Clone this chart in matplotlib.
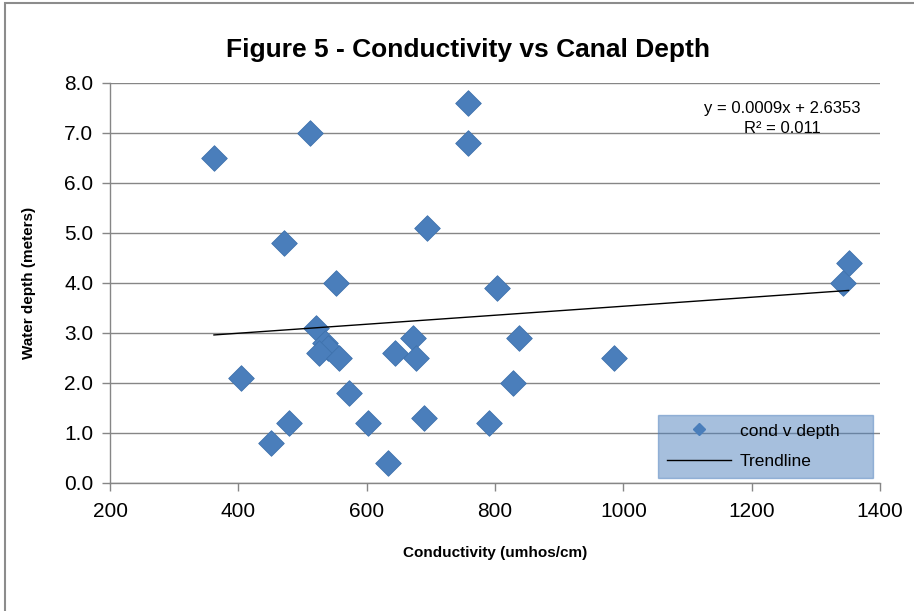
import matplotlib
matplotlib.use('Agg')
import matplotlib.pyplot as plt
import matplotlib.patches as mpatches
from matplotlib.lines import Line2D
import numpy as np

plt.rcParams['font.family'] = ['Liberation Sans', 'DejaVu Sans']

# conductivity (umhos/cm) and water depth (m)
conductivity = [362, 511, 758, 758, 471, 694, 552, 803, 1342, 1351,
                521, 535, 540, 526, 557, 644, 672, 677, 837, 986,
                404, 573, 828, 479, 602, 690, 790, 451, 633]
depth = [6.5, 7.0, 7.6, 6.8, 4.8, 5.1, 4.0, 3.9, 4.0, 4.4,
         3.1, 2.8, 2.7, 2.6, 2.5, 2.6, 2.9, 2.5, 2.9, 2.5,
         2.1, 1.8, 2.0, 1.2, 1.2, 1.3, 1.2, 0.8, 0.4]

slope = 0.0009
intercept = 2.6353
r2 = 0.011

xticks = [200, 400, 600, 800, 1000, 1200, 1400]
yticks = [0, 1, 2, 3, 4, 5, 6, 7, 8]

blue = '#4a7ebb'
grey = '#868686'

fig = plt.figure(figsize=(9.14, 6.11), dpi=100)
ax = fig.add_axes([110/914, 1-483/611, 770/914, 400/611])

# chart area border (only left/top visible in the crop)
fig.patches.append(mpatches.Rectangle((5/914, -0.1), 1.2, 1 - 3/611 + 0.1,
                                      transform=fig.transFigure, fill=False,
                                      edgecolor='#8c8c8c', lw=1.5))

ax.scatter(conductivity, depth, marker='D', s=170, color=blue,
           edgecolors='#3f72ad', linewidths=0.6, zorder=3)

xt = np.array([min(conductivity), max(conductivity)])
ax.plot(xt, slope*xt + intercept, color='black', lw=1, zorder=4)

ax.set_xlim(200, 1400)
ax.set_ylim(0, 8)
ax.set_xticks(xticks)
ax.set_yticks(yticks)
ax.set_yticklabels(['%.1f' % v for v in yticks])
ax.tick_params(axis='both', labelsize=15, color=grey, length=6, width=1)
ax.tick_params(axis='x', pad=8)
ax.tick_params(axis='y', pad=6)

ax.yaxis.grid(True, color=grey, lw=1)
ax.set_axisbelow(True)
for s in ['top', 'right']:
    ax.spines[s].set_visible(False)
for s in ['left', 'bottom']:
    ax.spines[s].set_color(grey)
    ax.spines[s].set_linewidth(1)

fig.text(468/914, 1-50/611, 'Figure 5 - Conductivity vs Canal Depth',
         ha='center', va='center', fontsize=19, fontweight='bold')
ax.set_xlabel('Conductivity (umhos/cm)', fontsize=11, fontweight='bold', labelpad=18)
ax.set_ylabel('Water depth (meters)', fontsize=11, fontweight='bold', labelpad=20)

ax.text(0.975, 0.955, 'y = 0.0009x + 2.6353\nR\u00b2 = %.3f' % r2,
        transform=ax.transAxes, ha='right', va='top', fontsize=12,
        multialignment='center', linespacing=1.4)

handles = [Line2D([], [], marker='D', ls='none', color=blue, ms=6),
           Line2D([], [], color='black', lw=1)]
leg = ax.legend(handles, ['cond v depth', 'Trendline'], loc='lower left',
                bbox_to_anchor=(0.712, 0.0125, 0.279, 0.16), mode='expand',
                borderaxespad=0, fontsize=12.5, handlelength=3.7,
                handletextpad=0.5, labelspacing=0.9, borderpad=0.5,
                fancybox=False, framealpha=0.5, facecolor='#4f81bd',
                edgecolor='#4f81bd')
leg.get_frame().set_linewidth(1)

fig.savefig('out.png', dpi=100)
